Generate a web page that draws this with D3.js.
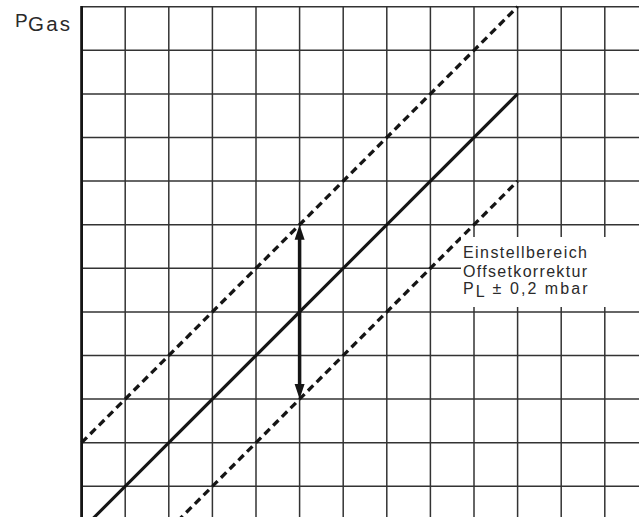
<!DOCTYPE html>
<html>
<head>
<meta charset="utf-8">
<script src="https://cdn.jsdelivr.net/npm/d3@7"></script>
<style>
  html, body { margin: 0; padding: 0; background: #fff; }
  svg { display: block; }
  text { font-family: "Liberation Sans", Arial, sans-serif; fill: #2a2a2a; }
</style>
</head>
<body>
<script>
// ---- data (grid units) ----
const gridCols = d3.range(1, 14);          // vertical grid line positions
const gridRows = d3.range(0, 13);          // horizontal grid line positions
const solidLine = [[0, 0], [10, 10]];      // nominal characteristic
const upperDashed = [[0, 2], [10, 12]];    // +offset limit
const lowerDashed = [[2, 0], [10, 8]];     // -offset limit
const arrowX = 5;
const arrowRange = [3, 7];
const yLabel = ["P", "Gas"];
const noteLines = ["Einstellbereich", "Offsetkorrektur"];
const noteLast = ["P", "L", " ± 0,2 mbar"];

const W = 639, H = 517;
const step = 43.6, x0 = 81.6, y0 = 6.7;

const svg = d3.select("body").append("svg").attr("width", W).attr("height", H);

const x = d3.scaleLinear().domain([0, 13]).range([x0, x0 + 13 * step]);
const y = d3.scaleLinear().domain([0, 12]).range([y0 + 12 * step, y0]);

// grid
const g = svg.append("g");
g.selectAll("line.v").data(gridCols).join("line")
  .attr("x1", d => x(d)).attr("x2", d => x(d))
  .attr("y1", y(12)).attr("y2", y(0))
  .attr("stroke", "#333").attr("stroke-width", 1.5);
g.selectAll("line.h").data(gridRows).join("line")
  .attr("x1", x(0)).attr("x2", x(13))
  .attr("y1", d => y(d)).attr("y2", d => y(d))
  .attr("stroke", "#333").attr("stroke-width", 1.5);

// y axis
svg.append("line")
  .attr("x1", x(0)).attr("x2", x(0))
  .attr("y1", y(12) - 0.75).attr("y2", y(0))
  .attr("stroke", "#151515").attr("stroke-width", 2.8);

const line = d3.line().x(d => x(d[0])).y(d => y(d[1]));

svg.append("path").attr("d", line(solidLine))
  .attr("fill", "none").attr("stroke", "#151515").attr("stroke-width", 3.1);
[upperDashed, lowerDashed].forEach(l => {
  svg.append("path").attr("d", line(l))
    .attr("fill", "none").attr("stroke", "#151515").attr("stroke-width", 3.3)
    .attr("stroke-dasharray", "7.5,4.8");
});

// double arrow
const ax = x(arrowX), aTop = y(arrowRange[1]), aBot = y(arrowRange[0]);
const headL = 15, headW = 5;
svg.append("line")
  .attr("x1", ax).attr("x2", ax)
  .attr("y1", aTop + headL - 1).attr("y2", aBot - headL + 1)
  .attr("stroke", "#151515").attr("stroke-width", 3.5);
svg.append("path")
  .attr("d", `M${ax},${aTop} L${ax - headW},${aTop + headL} L${ax + headW},${aTop + headL} Z`)
  .attr("fill", "#151515");
svg.append("path")
  .attr("d", `M${ax},${aBot} L${ax - headW},${aBot - headL} L${ax + headW},${aBot - headL} Z`)
  .attr("fill", "#151515");

// annotation box
svg.append("rect")
  .attr("x", 461).attr("y", 237).attr("width", W - 461).attr("height", 70)
  .attr("fill", "#fff");
const tx = 463;
noteLines.forEach((t, i) => {
  svg.append("text").attr("x", tx).attr("y", 258.3 + i * 18.3)
    .attr("font-size", 16).attr("textLength", 124).attr("lengthAdjust", "spacing")
    .text(t);
});
const last = svg.append("text").attr("x", tx).attr("y", 293.6).attr("font-size", 16);
last.append("tspan").text(noteLast[0]);
last.append("tspan").attr("dy", 3.0).text(noteLast[1]);
last.append("tspan").attr("dy", -3.0).text(noteLast[2]);
last.attr("textLength", 124.5).attr("lengthAdjust", "spacing");

// y label
svg.append("text").attr("x", 15).attr("y", 26.7).attr("font-size", 19)
  .attr("textLength", 10.5).attr("lengthAdjust", "spacing").text(yLabel[0]);
svg.append("text").attr("x", 28).attr("y", 30.5).attr("font-size", 20.5)
  .attr("textLength", 42).attr("lengthAdjust", "spacing").text(yLabel[1]);
</script>
</body>
</html>
